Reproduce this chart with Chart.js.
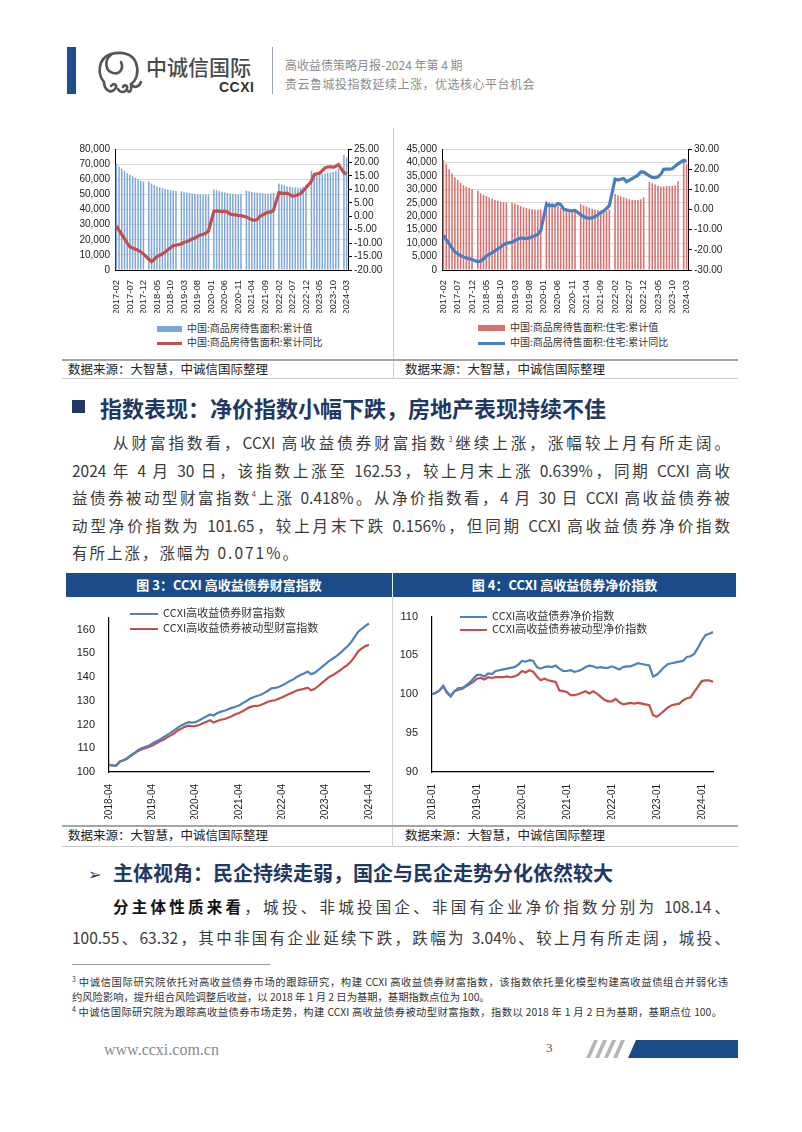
<!DOCTYPE html>
<html>
<head>
<meta charset="utf-8">
<script src="https://cdn.jsdelivr.net/npm/chart.js@4.4.1/dist/chart.umd.min.js"></script>
<style>
  body { margin: 0; width: 802px; height: 1132px; position: relative; background: #fff; overflow: hidden;
         font-family: "Noto Sans CJK SC", sans-serif; color: #333; }
  .a { position: absolute; white-space: nowrap; }
  .box { position: absolute; }
  .para { position: absolute; font-size: 15.5px; line-height: 22px; color: #3a3a3a; text-align: justify; text-align-last: justify; white-space: nowrap; }
  .src { position: absolute; font-size: 12.5px; line-height: 16px; color: #222; }
  .lg { position: absolute; font-size: 10px; line-height: 14px; color: #333; white-space: nowrap; }
  .lg i { display: inline-block; vertical-align: middle; margin-right: 5px; }
  .fn { position: absolute; font-size: 10.3px; line-height: 14px; color: #333; white-space: nowrap; }
  .fn.j { text-align: justify; text-align-last: justify; }
  sup { font-size: 7px; vertical-align: top; position: relative; top: -3px; }
</style>
</head>
<body>

<!-- header -->
<div class="box" style="left:67px;top:47px;width:9px;height:47px;background:#1F4E8C"></div>
<svg class="box" style="left:94px;top:49px" width="50" height="48" viewBox="0 0 50 48" fill="none" stroke="#555" stroke-width="2.6" stroke-linecap="round">
  <path d="M10 33 C3 25 4 9 17 5 C28 2 39 5 42 14 C45 22 43 31 37 35"/>
  <path d="M17 6 C10 11 11 22 19 24 C26 26 30 19 27 13"/>
  <path d="M37 35 C40 40 45 38 47 33"/>
  <path d="M10 33 C10 41 17 45 21 40 C24 36 20 33 17 37"/>
  <path d="M24 40 C26 44 31 44 33 40 C34 36 30 35 29 38"/>
  <path d="M33 41 C35 44 38 43 37 36"/>
</svg>
<div class="a" style="left:146px;top:52px;font-size:21px;line-height:28px;color:#4a4a4a;font-weight:500">中诚信国际</div>
<div class="a" style="left:219px;top:79px;font-size:14px;line-height:16px;color:#333;font-weight:bold;font-family:'Liberation Sans',sans-serif;letter-spacing:0.5px">CCXI</div>
<div class="box" style="left:272px;top:47px;width:1px;height:47px;background:#9aa4b0"></div>
<div class="a" style="left:285px;top:57px;font-size:12px;line-height:16px;color:#8c8c8c">高收益债策略月报-2024 年第 4 期</div>
<div class="a" style="left:285px;top:76px;font-size:12px;line-height:16px;color:#8c8c8c;letter-spacing:0.5px">贵云鲁城投指数延续上涨，优选核心平台机会</div>

<!-- top charts -->
<div class="box" style="left:393px;top:128px;width:1px;height:250px;background:#d0d0d0"></div>
<div class="box" style="left:60px;top:138px;width:325px;height:175px"><canvas id="c1"></canvas></div>
<div class="box" style="left:392px;top:138px;width:332px;height:175px"><canvas id="c2"></canvas></div>
<div id="lg1"></div>
<div id="lg2"></div>
<div class="box" style="left:62px;top:359px;width:676px;height:2px;background:#a6a6a6"></div>
<div class="src" style="left:68px;top:361px">数据来源：大智慧，中诚信国际整理</div>
<div class="src" style="left:405px;top:361px">数据来源：大智慧，中诚信国际整理</div>
<div class="box" style="left:62px;top:378px;width:676px;height:1px;background:#c8c8c8"></div>

<!-- section 1 -->
<div class="box" style="left:72px;top:400px;width:13px;height:13px;background:#1F3864"></div>
<div class="a" style="left:100px;top:393px;font-size:22px;line-height:28px;font-weight:bold;color:#1F3864">指数表现：净价指数小幅下跌，房地产表现持续不佳</div>

<div class="para" style="left:113px;top:431px;width:617px">从财富指数看，CCXI 高收益债券财富指数<sup>3</sup>继续上涨，涨幅较上月有所走阔。</div>
<div class="para" style="left:72px;top:459px;width:658px">2024 年 4 月 30 日，该指数上涨至 162.53，较上月末上涨 0.639%，同期 CCXI 高收</div>
<div class="para" style="left:72px;top:486px;width:658px">益债券被动型财富指数<sup>4</sup>上涨 0.418%。从净价指数看，4 月 30 日 CCXI 高收益债券被</div>
<div class="para" style="left:72px;top:514px;width:658px">动型净价指数为 101.65，较上月末下跌 0.156%，但同期 CCXI 高收益债券净价指数</div>
<div class="para" style="left:72px;top:541px;text-align-last:left;letter-spacing:2px">有所上涨，涨幅为 0.071%。</div>

<!-- figure titles -->
<div class="box" style="left:66px;top:573px;width:670px;height:24px;background:#1B4C89"></div>
<div class="box" style="left:392px;top:573px;width:1px;height:24px;background:#e8eef6"></div>
<div class="a" style="left:66px;top:576px;width:326px;text-align:center;color:#fff;font-size:13px;line-height:18px;font-weight:bold">图 3：CCXI 高收益债券财富指数</div>
<div class="a" style="left:393px;top:576px;width:343px;text-align:center;color:#fff;font-size:13px;line-height:18px;font-weight:bold">图 4：CCXI 高收益债券净价指数</div>

<!-- bottom charts -->
<div class="box" style="left:392px;top:597px;width:1px;height:250px;background:#d0d0d0"></div>
<div class="box" style="left:60px;top:605px;width:325px;height:214px"><canvas id="c3"></canvas></div>
<div class="box" style="left:398px;top:604px;width:322px;height:215px"><canvas id="c4"></canvas></div>
<div id="lg3"></div>
<div id="lg4"></div>
<div class="box" style="left:62px;top:825px;width:676px;height:2px;background:#a6a6a6"></div>
<div class="src" style="left:68px;top:827px">数据来源：大智慧，中诚信国际整理</div>
<div class="src" style="left:405px;top:827px">数据来源：大智慧，中诚信国际整理</div>
<div class="box" style="left:62px;top:846px;width:676px;height:1px;background:#c8c8c8"></div>

<!-- section 2 -->
<div class="a" style="left:88px;top:861px;font-size:16px;line-height:24px;color:#1F3864">➢</div>
<div class="a" style="left:113px;top:860px;font-size:20px;line-height:26px;font-weight:bold;color:#1F3864">主体视角：民企持续走弱，国企与民企走势分化依然较大</div>
<div class="para" style="left:113px;top:895px;width:617px"><b style="color:#111">分主体性质来看</b>，城投、非城投国企、非国有企业净价指数分别为 108.14、</div>
<div class="para" style="left:72px;top:926px;width:658px">100.55、63.32，其中非国有企业延续下跌，跌幅为 3.04%、较上月有所走阔，城投、</div>

<!-- footnotes -->
<div class="box" style="left:72px;top:964px;width:198px;height:1px;background:#999"></div>
<div class="fn j" style="left:72px;top:975px;width:656px"><sup>3</sup> 中诚信国际研究院依托对高收益债券市场的跟踪研究，构建 CCXI 高收益债券财富指数，该指数依托量化模型构建高收益债组合并弱化违</div>
<div class="fn" style="left:72px;top:990px">约风险影响，提升组合风险调整后收益，以 2018 年 1 月 2 日为基期，基期指数点位为 100。</div>
<div class="fn j" style="left:72px;top:1005px;width:650px"><sup>4</sup> 中诚信国际研究院为跟踪高收益债券市场走势，构建 CCXI 高收益债券被动型财富指数，指数以 2018 年 1 月 2 日为基期，基期点位 100。</div>

<!-- footer -->
<div class="a" style="left:104px;top:1040px;font-size:16px;line-height:20px;color:#8a8a8a;font-family:'Liberation Serif',serif">www.ccxi.com.cn</div>
<div class="a" style="left:546px;top:1039px;font-size:13px;line-height:18px;color:#555;font-family:'Liberation Serif',serif">3</div>
<svg class="box" style="left:586px;top:1040px" width="154" height="18">
  <polygon points="8,0 12,0 4,18 0,18" fill="#b5b5b5"/>
  <polygon points="17,0 21,0 13,18 9,18" fill="#b5b5b5"/>
  <polygon points="26,0 30,0 22,18 18,18" fill="#b5b5b5"/>
  <polygon points="35,0 39,0 31,18 27,18" fill="#b5b5b5"/>
  <polygon points="50,0 152,0 152,18 42,18" fill="#1B4C89"/>
</svg>

<script>
// month labels for category axes
function months(y0, m0, y1, m1) {
  const out = []
  let y = y0, m = m0
  while (y < y1 || (y === y1 && m <= m1)) {
    out.push(y + '-' + String(m).padStart(2, '0'))
    m++
    if (m > 12) { m = 1; y++ }
  }
  return out
}

// chart 1: 商品房待售面积 (2017-02 .. 2024-03), January has no data
const stockMonths = months(2017, 2, 2024, 3)
const stockTotal = [
  70500, 68500, 67000, 65500, 64000, 63000, 62000, 61000, 60000, 59000, 58500,
  null, 58500, 57200, 56200, 55300, 54600, 54000, 53500, 53000, 52800, 52500, 52200,
  null, 52000, 51700, 51300, 50900, 50500, 50200, 50000, 49800, 49700, 49700, 49800,
  null, 53200, 52800, 52300, 51800, 51300, 50800, 50500, 50200, 50000, 49800, 49900,
  null, 52500, 52000, 51500, 51200, 51000, 50800, 50600, 50500, 50400, 50500, 51000,
  null, 57200, 56500, 55900, 55400, 55000, 54700, 54500, 54300, 54400, 55000, 56400,
  null, 65500, 64500, 64000, 63500, 63400, 64000, 64300, 64500, 65000, 65700, 67000,
  null, 76000, 74500
]
const stockYoy = [
  -3.6, -5.3, -6.8, -8.3, -10.0, -11.3, -11.8, -12.3, -12.6, -13.3, -14.0,
  null, -16.0, -16.9, -16.0, -15.0, -14.5, -14.0, -13.3, -12.5, -11.7, -11.0, -10.8,
  null, -10.3, -9.7, -9.5, -9.0, -8.5, -8.1, -7.5, -7.0, -6.7, -6.3, -5.5,
  null, 1.8, 2.0, 1.8, 1.8, 1.8, 1.6, 0.8, 0.6, 0.5, 0.3, 0.2,
  null, -0.3, -0.8, -1.3, -1.5, -1.2, 0.0, 0.5, 1.0, 1.5, 1.5, 2.2,
  null, 8.8, 8.6, 8.4, 8.6, 8.0, 7.5, 7.6, 8.0, 8.4, 9.5, 10.6,
  null, 13.0, 15.4, 15.8, 16.0, 17.0, 18.0, 18.3, 18.4, 18.2, 18.6, 19.2,
  null, 16.2, 15.7
]
const stockNames = ['中国:商品房待售面积:累计值', '中国:商品房待售面积:累计同比']

// chart 2: 住宅待售面积
const houseTotal = [
  41000, 39500, 37500, 36000, 34500, 33500, 32500, 31500, 31000, 30500, 30000,
  null, 29500, 28500, 28000, 27500, 27000, 26500, 26000, 25800, 25500, 25300, 25000,
  null, 25000, 24700, 24300, 23800, 23300, 23000, 22800, 22600, 22500, 22500, 22500,
  null, 25700, 25300, 24800, 24300, 23700, 23000, 22500, 22200, 22000, 21800, 21800,
  null, 24500, 24000, 23600, 23200, 22800, 22500, 22300, 22100, 22000, 22000, 22500,
  null, 28300, 27800, 27300, 27000, 26700, 26300, 26000, 26000, 26000, 26300, 27000,
  null, 32700, 32300, 31800, 31300, 31000, 31000, 31200, 31200, 31300, 31500, 33000,
  null, 40300, 39500
]
const houseYoy = [
  -12.7, -15.0, -17.0, -19.0, -21.0, -22.0, -22.8, -23.5, -24.0, -24.5, -24.8,
  null, -25.9, -25.5, -24.5, -23.1, -22.3, -21.5, -20.5, -19.5, -18.6, -17.5, -16.8,
  null, -16.2, -15.4, -14.8, -14.1, -14.3, -14.4, -14.1, -13.5, -13.0, -12.3, -10.6,
  null, 2.6, 1.9, 2.0, 1.9, 3.0, 2.5, 0.3, -0.2, -0.5, -0.7, -0.5,
  null, -2.6, -3.5, -4.2, -4.3, -4.2, -3.5, -2.6, -1.5, -0.7, 0.5, 1.9,
  null, 15.1, 14.6, 15.0, 15.4, 13.8, 14.5, 15.3, 16.2, 17.0, 18.6, 18.5,
  null, 16.7, 15.9, 15.8, 16.2, 17.5, 19.9, 20.0, 20.0, 20.2, 21.5, 22.6,
  null, 24.4, 23.9
]
const houseNames = ['中国:商品房待售面积:住宅:累计值', '中国:商品房待售面积:住宅:累计同比']

// chart 3: 财富指数 (2018-04 .. 2024-04)
const wealthMonths = months(2018, 4, 2024, 4)
const wealthIndex = [
  103.0, 102.8, 102.7, 104.4, 105.0, 105.8, 107.0, 108.0, 109.2,
  110.0, 110.5, 111.0, 112.0, 112.8, 113.6, 114.6, 115.5, 116.5, 117.5, 118.6, 119.6,
  120.3, 121.0, 120.8, 121.0, 121.8, 122.6, 123.5, 124.2, 123.8, 124.8, 125.4, 125.8,
  126.4, 127.0, 127.5, 128.0, 129.0, 129.8, 130.8, 131.5, 132.0, 132.5, 133.3, 134.2,
  135.2, 135.4, 135.8, 136.5, 137.3, 138.2, 139.0, 140.0, 140.8, 141.5, 142.3, 141.2,
  141.8, 143.0, 144.3, 145.5, 146.8, 147.8, 148.8, 150.0, 151.5, 152.8, 154.5, 156.8,
  159.0, 160.3, 161.5, 162.5
]
const wealthPassive = [
  103.0, 102.8, 102.7, 104.3, 104.8, 105.6, 106.7, 107.8, 108.8,
  109.5, 110.0, 110.5, 111.2, 112.0, 112.8, 113.6, 114.5, 115.3, 116.2, 117.5, 118.2,
  119.0, 119.5, 119.2, 119.4, 119.8, 120.5, 121.2, 121.8, 120.8, 121.5, 122.0, 122.3,
  122.8, 123.5, 124.3, 124.8, 125.6, 126.5, 127.3, 127.7, 127.8, 128.2, 128.8, 129.6,
  130.0, 130.2, 130.8, 131.5, 132.2, 132.9, 133.6, 134.3, 134.7, 135.0, 135.5, 134.4,
  135.0, 136.2, 137.5, 138.8, 140.0, 140.8, 141.8, 142.8, 144.0, 145.0, 146.5, 148.5,
  150.8, 152.0, 153.0, 153.5
]
const wealthNames = ['CCXI高收益债券财富指数', 'CCXI高收益债券被动型财富指数']
const wealthTicks = [100, 110, 120, 130, 140, 150, 160]

// chart 4: 净价指数 (2018-01 .. 2024-04)
const netMonths = months(2018, 1, 2024, 4)
const netIndex = [
  100.0, 100.2, 100.5, 101.1, 100.3, 99.8, 100.4, 100.8, 100.8, 101.1, 101.5, 102.0,
  102.5, 102.5, 102.3, 102.7, 102.6, 103.0, 103.1, 103.2, 103.3, 103.4, 103.5, 103.8,
  104.3, 104.2, 104.4, 104.3, 103.5, 103.3, 103.5, 103.6, 103.5, 103.7, 103.3, 103.0,
  103.0, 103.1, 102.9, 103.0, 103.2, 103.5, 103.7, 103.6, 103.4, 103.5, 103.4, 103.4,
  103.6, 103.4, 103.2, 103.5, 103.6, 103.6, 103.8, 104.0, 103.9, 103.8, 103.7, 102.3,
  102.5, 103.0, 103.5, 103.9, 104.0, 104.1, 104.2, 104.3, 104.8, 104.9, 105.2, 106.0,
  106.9, 107.6, 107.8, 108.0
]
const netPassive = [
  100.0, 100.2, 100.5, 101.0, 100.2, 99.7, 100.4, 100.6, 100.7, 101.0, 101.3, 101.6,
  102.0, 102.1, 101.9, 102.2, 102.1, 102.2, 102.2, 102.2, 102.3, 102.2, 102.3, 102.5,
  103.0, 102.8, 103.1, 102.9, 102.3, 101.8, 102.0, 101.8, 101.7, 101.6, 100.5, 100.4,
  100.3, 99.9, 99.9, 100.0, 100.2, 100.4, 100.1, 100.4, 100.1, 99.7, 99.3, 99.1,
  99.1, 99.4, 99.0, 98.7, 98.8, 98.9, 98.8, 98.9, 98.8, 98.7, 98.6, 97.3,
  97.1, 97.5, 97.9, 98.3, 98.6, 98.7, 98.8, 99.2, 99.5, 99.6, 100.3, 101.0,
  101.7, 101.8, 101.8, 101.6
]
const netNames = ['CCXI高收益债券净价指数', 'CCXI高收益债券被动型净价指数']
const netTicks = [90, 95, 100, 105, 110]

const RED = '#C0504D'
const BLUE = '#4A7EC2'
const tickFont = { family: 'Liberation Sans', size: 10 }

function legend(id, x, y, gap, names, swatches, fontSize) {
  let html = ''
  names.forEach((n, i) => {
    const s = swatches[i]
    html += '<div class="lg" style="left:' + x + 'px;top:' + (y + i * gap - 7) + 'px;font-size:' + fontSize + 'px">' +
      '<i style="width:' + s.w + 'px;height:' + s.h + 'px;background:' + s.c + '"></i>' + n + '</div>'
  })
  document.getElementById(id).innerHTML = html
}

function everyN(labels, n) {
  return (v, i) => i % n === 0 ? labels[i] : null
}

function comboChart(id, labels, bars, line, barColor, lineColor, names, left, right) {
  return new Chart(document.getElementById(id), {
    type: 'bar',
    data: {
      labels: labels,
      datasets: [
        { type: 'line', label: names[1], data: line, yAxisID: 'y1', borderColor: lineColor, borderWidth: 3.2,
          pointRadius: 0, spanGaps: true, tension: 0, order: 1 },
        { type: 'bar', label: names[0], data: bars, yAxisID: 'y', backgroundColor: barColor,
          barPercentage: 0.55, categoryPercentage: 1, order: 2 }
      ]
    },
    options: {
      responsive: true, maintainAspectRatio: false, animation: false,
      layout: { padding: { top: 8 } },
      plugins: { legend: { display: false }, tooltip: { enabled: false } },
      scales: {
        x: {
          grid: { display: false }, border: { color: '#000' },
          ticks: { autoSkip: false, maxRotation: 90, minRotation: 90, padding: 2, color: '#222',
                   font: { family: 'Liberation Sans', size: 9.5 }, callback: everyN(labels, 5) },
          afterFit: s => { s.height = 43 }
        },
        y: {
          position: 'left', min: left.min, max: left.max,
          grid: { color: '#d9d9d9', drawTicks: false }, border: { color: '#000' },
          ticks: { stepSize: left.step, autoSkip: false, padding: 5, color: '#222', font: tickFont,
                   callback: v => v.toLocaleString('en-US') },
          afterFit: s => { s.width = left.w }
        },
        y1: {
          position: 'right', min: right.min, max: right.max,
          grid: { drawOnChartArea: false, color: '#000', tickLength: 4 }, border: { color: '#000' },
          ticks: { stepSize: right.step, autoSkip: false, padding: 2, color: '#222', font: tickFont,
                   callback: v => v.toFixed(2) },
          afterFit: s => { s.width = right.w }
        }
      }
    }
  })
}

function lineChart(id, labels, a, b, names, y, yWidth, padRight) {
  return new Chart(document.getElementById(id), {
    type: 'line',
    data: {
      labels: labels,
      datasets: [
        { label: names[0], data: a, borderColor: '#4F81BD', borderWidth: 2.2, pointRadius: 0, tension: 0 },
        { label: names[1], data: b, borderColor: RED, borderWidth: 2.2, pointRadius: 0, tension: 0 }
      ]
    },
    options: {
      responsive: true, maintainAspectRatio: false, animation: false,
      layout: { padding: { top: 8, right: padRight } },
      plugins: { legend: { display: false }, tooltip: { enabled: false } },
      scales: {
        x: {
          grid: { display: false }, border: { color: '#000', width: 1.2 },
          ticks: { autoSkip: false, maxRotation: 90, minRotation: 90, padding: 4, color: '#222',
                   font: { family: 'Liberation Sans', size: 10 }, callback: everyN(labels, 12) },
          afterFit: s => { s.height = 47 }
        },
        y: {
          min: y.min, max: y.max,
          grid: { display: false }, border: { color: '#000', width: 1.2 },
          ticks: { autoSkip: false, padding: 6, color: '#222',
                   font: { family: 'Liberation Sans', size: 11 } },
          afterBuildTicks: s => { s.ticks = y.ticks.map(v => ({ value: v })) },
          afterFit: s => { s.width = yWidth }
        }
      }
    }
  })
}

comboChart('c1', stockMonths, stockTotal, stockYoy, '#7EA6D8', RED, stockNames,
  { w: 55, min: 0, max: 80000, step: 10000 },
  { w: 37, min: -20, max: 25, step: 5 })
comboChart('c2', stockMonths, houseTotal, houseYoy, '#D9726F', BLUE, houseNames,
  { w: 50, min: 0, max: 45000, step: 5000 },
  { w: 36, min: -30, max: 30, step: 10 })

lineChart('c3', wealthMonths, wealthIndex, wealthPassive, wealthNames, { min: 100, max: 165, ticks: wealthTicks }, 49, 4)
lineChart('c4', netMonths, netIndex, netPassive, netNames, { min: 90, max: 110, ticks: netTicks }, 34, 7)

legend('lg1', 157, 328, 14, stockNames, [{ w: 25, h: 6, c: '#7EA6D8' }, { w: 25, h: 3, c: RED }], 10)
legend('lg2', 478, 327, 15, houseNames, [{ w: 27, h: 6, c: '#D9726F' }, { w: 27, h: 3, c: BLUE }], 10)
legend('lg3', 130, 612, 15, wealthNames, [{ w: 28, h: 2, c: '#4F81BD' }, { w: 28, h: 2, c: RED }], 11)
legend('lg4', 460, 615, 13, netNames, [{ w: 27, h: 2, c: '#4F81BD' }, { w: 27, h: 2, c: RED }], 11)
</script>
</body>
</html>
